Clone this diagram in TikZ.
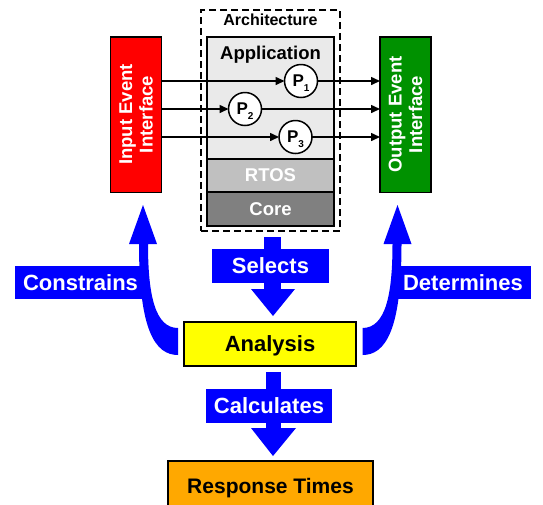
\documentclass[tikz,border=0pt]{standalone}
\usepackage{fontspec}
\setmainfont{Liberation Sans}
\usetikzlibrary{arrows.meta}
\definecolor{appgray}{RGB}{234,234,234}
\definecolor{rtosgray}{RGB}{192,192,192}
\definecolor{coregray}{RGB}{128,128,128}
\definecolor{ifred}{RGB}{255,0,0}
\definecolor{ifgreen}{RGB}{0,145,0}
\definecolor{ablue}{RGB}{0,0,255}
\definecolor{ayellow}{RGB}{255,255,0}
\definecolor{aorange}{RGB}{255,168,0}
\begin{document}
\begin{tikzpicture}[x=1pt,y=-1pt,
  every node/.style={inner sep=0pt,outer sep=0pt,text depth=0pt,font=\bfseries},
  ifbox/.style={draw=black,line width=1.5pt,minimum width=51pt,minimum height=155.5pt},
  layer/.style={draw=black,line width=2pt,minimum width=127pt},
  bigtxt/.style={font=\bfseries\fontsize{22}{26}\selectfont},
  midtxt/.style={font=\bfseries\fontsize{18.5}{20.5}\selectfont},
  proc/.style={circle,draw=black,line width=1.5pt,fill=white,minimum size=33pt},
  flow/.style={line width=1.5pt,-{Triangle[length=9pt,width=8pt]}},
  result/.style={draw=black,line width=2.5pt}]
\useasboundingbox (0,0) rectangle (543,504);
\fill[white] (0,0) rectangle (543,504);

% architecture
\node[draw=black,line width=1.8pt,dash pattern=on 7pt off 4pt,minimum width=139pt,minimum height=221pt] (arch) at (270.5,120.5) {};
\node[font=\bfseries\fontsize{16}{18}\selectfont] (archl) at (270.5,19.5) {Architecture};
\node[layer,fill=appgray,minimum height=122pt] (app) at (270.5,98) {};
\node[layer,fill=rtosgray,minimum height=33pt,midtxt,text=white] (rtos) at (270.5,175.5) {RTOS};
\node[layer,fill=coregray,minimum height=34pt,midtxt,text=white] (core) at (270.5,209) {Core};
\node[midtxt] (appl) at (270.5,53) {Application};

% interfaces
\node[ifbox,fill=ifred] (in) at (136,114.5) {};
\node[midtxt,rotate=90,align=center,text=white] (inl) at (in.center) {Input Event\\Interface};
\node[ifbox,fill=ifgreen] (out) at (405.5,114.5) {};
\node[midtxt,rotate=90,align=center,text=white] (outl) at (out.center) {Output Event\\Interface};

% processes
\newcommand{\procl}[1]{{\fontsize{17}{17}\selectfont P\raisebox{-5pt}{\fontsize{10}{10}\selectfont #1}}}
\node[proc] (p1) at (301,81) {\procl{1}};
\node[proc] (p2) at (245,109) {\procl{2}};
\node[proc] (p3) at (295.5,137) {\procl{3}};
\draw[flow] (in.east |- p1) -- (p1);
\draw[flow] (p1) -- (out.west |- p1);
\draw[flow] (in.east |- p2) -- (p2);
\draw[flow] (p2) -- (out.west |- p2);
\draw[flow] (in.east |- p3) -- (p3);
\draw[flow] (p3) -- (out.west |- p3);

% analysis and response
\node[result,fill=ayellow,minimum width=172pt,minimum height=44pt,bigtxt] (ana) at (270,344) {Analysis};
\node[result,fill=aorange,minimum width=205pt,minimum height=49pt,font=\bfseries\fontsize{21}{24}\selectfont] (resp) at (270.5,485.5) {Response Times};

% block arrows
\fill[ablue] (178,355) .. controls (155,355) and (139,330) .. (139,244) -- (129,244) -- (143,205) -- (157,244) -- (148,244) .. controls (148,295) and (155,328) .. (178,328) -- cycle;
\fill[ablue] (15,266) rectangle (144,299);
\node[bigtxt,text=white] (constr) at (80.5,282.5) {Constrains};

\fill[ablue] (362.5,355) .. controls (385.5,355) and (401.5,330) .. (401.5,244) -- (411.5,244) -- (397.5,205) -- (383.5,244) -- (392.5,244) .. controls (392.5,295) and (385.5,328) .. (362.5,328) -- cycle;
\fill[ablue] (397,266) rectangle (531,299);
\node[bigtxt,text=white] (determ) at (463,282.5) {Determines};

\fill[ablue] (264,237) rectangle (281,290);
\fill[ablue] (212,249) rectangle (329,283);
\fill[ablue] (251,289) -- (295,289) -- (273,316) -- cycle;
\node[bigtxt,text=white] (sel) at (270.5,266) {Selects};

\fill[ablue] (266,372) rectangle (281,429);
\fill[ablue] (206,389) rectangle (332,423);
\fill[ablue] (251,428) -- (296,428) -- (273,456) -- cycle;
\node[bigtxt,text=white] (calc) at (269,406) {Calculates};
\end{tikzpicture}
\end{document}
